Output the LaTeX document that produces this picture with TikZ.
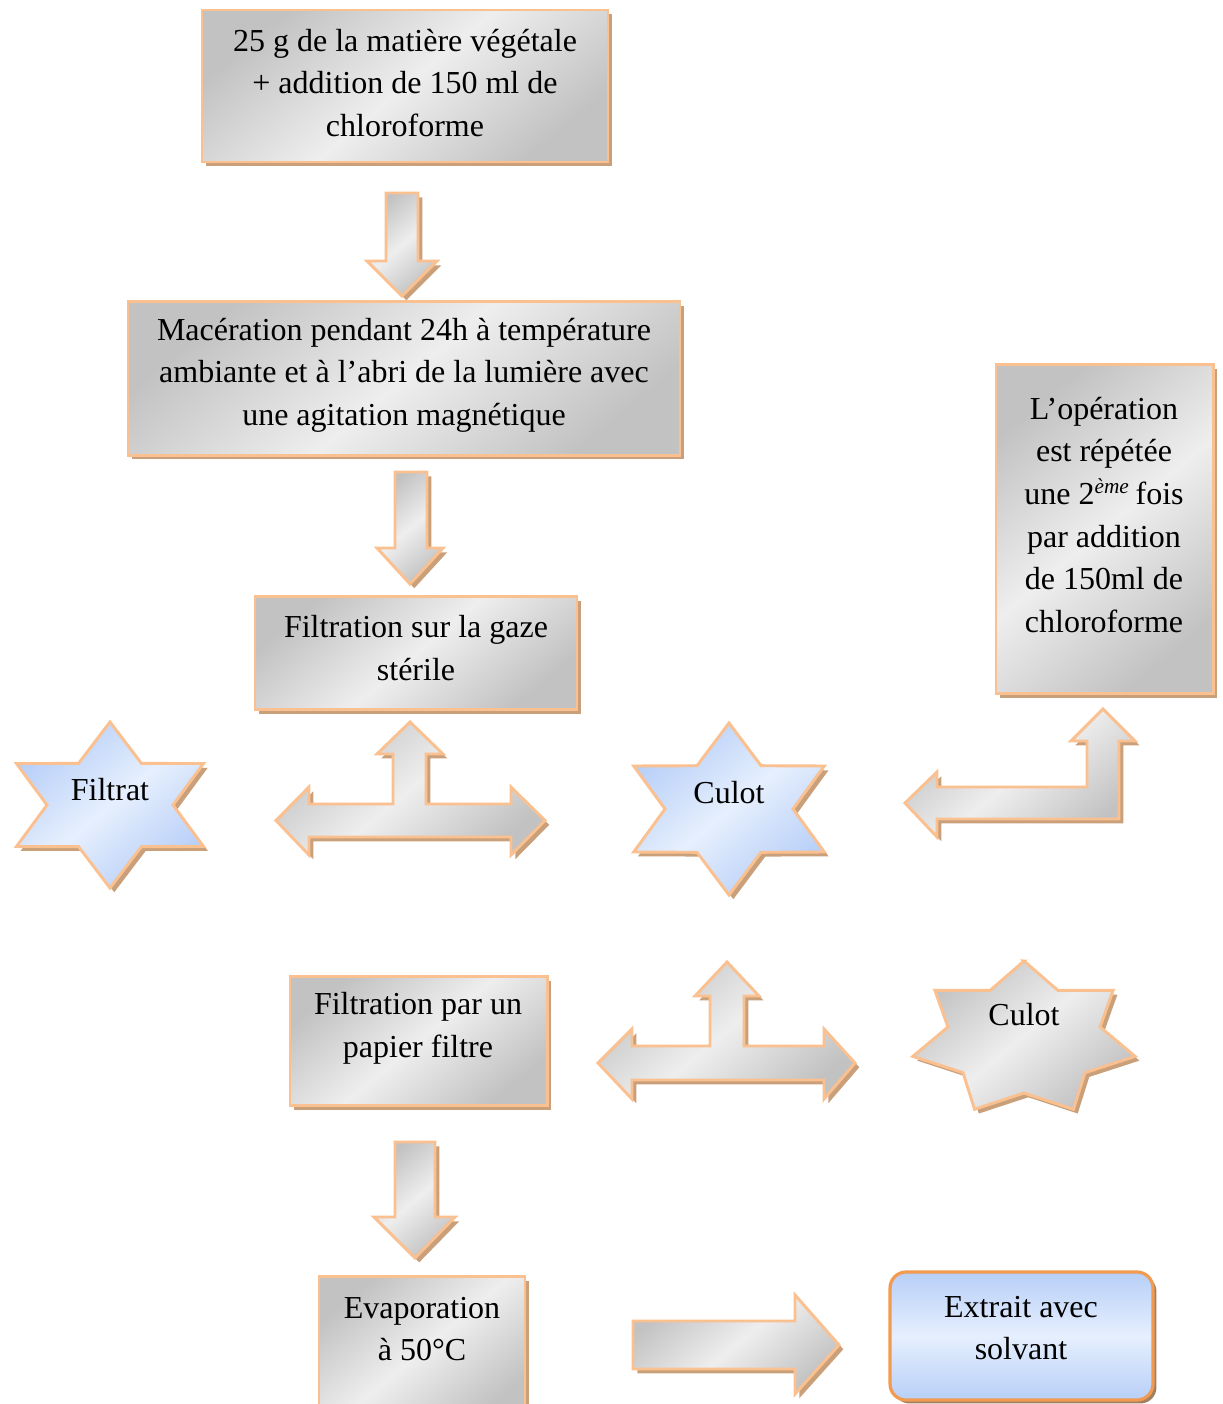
\documentclass[tikz,border=0pt]{standalone}
\usepackage{fontspec}
\setmainfont{Liberation Serif}
\usetikzlibrary{shadows}

\definecolor{boxline}{HTML}{FAC090}
\definecolor{roundline}{HTML}{F29A50}
\definecolor{shadowtan}{HTML}{C9A07A}
\definecolor{steelA}{HTML}{C2C2C2}
\definecolor{steelB}{HTML}{EEEEEE}
\definecolor{iceA}{HTML}{B7CFF8}
\definecolor{iceB}{HTML}{E6EFFD}

\tikzset{
  greyfill/.style={top color=steelA, bottom color=steelA, middle color=steelB, shading angle=40},
  bluefill/.style={top color=iceA, bottom color=iceA, middle color=iceB, shading angle=40},
  tanshadow/.style={drop shadow={shadow xshift=1.6pt, shadow yshift=-1.6pt, fill=shadowtan, opacity=1}},
  procbox/.style={draw=boxline, line width=1.1pt, greyfill, tanshadow, inner sep=0pt},
  blockarrow/.style={draw=boxline, line width=1.1pt, line join=miter, greyfill, tanshadow},
  bluestar/.style={draw=boxline, line width=1.1pt, line join=miter, bluefill, tanshadow},
  greystar/.style={draw=boxline, line width=1.1pt, line join=miter, greyfill, tanshadow},
  lbl/.style={align=center, inner sep=0pt, font=\fontsize{12}{16}\selectfont}
}

\begin{document}
\begin{tikzpicture}[x=0.375pt, y=-0.375pt]
    \useasboundingbox (0,0) rectangle (1222,1404);
    \clip (0,0) rectangle (1222,1404);

    % boxes
    \node[procbox, minimum width=152.25pt, minimum height=57pt] (vegetal) at (405,86) {};
    \node[lbl] (vegetaltxt) at (405,83) {25 g de la matière végétale\\+ addition de 150 ml de\\chloroforme};

    \node[procbox, minimum width=207pt, minimum height=57.4pt] (maceration) at (404,378.5) {};
    \node[lbl] (macerationtxt) at (404,375) {Macération pendant 24h à température\\ambiante et à l’abri de la lumière avec\\une agitation magnétique};

    \node[procbox, minimum width=120.75pt, minimum height=42.4pt] (gaze) at (416,653) {};
    \node[lbl] (gazetxt) at (416,648) {Filtration sur la gaze\\stérile};

    \node[procbox, minimum width=81.4pt, minimum height=123.4pt] (repete) at (1104.5,529) {};
    \node[lbl] (repetetxt) at (1104,515) {L’opération\\est répétée\\une 2\textsuperscript{\textit{ème}}\,fois\\par addition\\de 150ml de\\chloroforme};

    \node[procbox, minimum width=96.4pt, minimum height=48.4pt] (papier) at (418.5,1041) {};
    \node[lbl] (papiertxt) at (418,1028) {Filtration par un\\papier filtre};

    \node[procbox, minimum width=77.25pt, minimum height=55pt] (evapo) at (422,1350) {};
    \node[lbl] (evapotxt) at (422,1329) {Evaporation\\à 50°C};

    \node[draw=roundline, line width=1.2pt, rounded corners=6pt, bluefill, shading angle=0,
          drop shadow={shadow xshift=1.3pt, shadow yshift=-1.3pt, fill=shadowtan!80!black, opacity=1},
          minimum width=98.6pt, minimum height=48pt] (extrait) at (1021.5,1336) {};
    \node[lbl] (extraittxt) at (1021,1328) {Extrait avec\\solvant};

    % stars
    \begin{scope}[shift={(110,805)}]
      \draw[bluestar] (-90:108 and 83)
        \foreach \a in {-90,-30,...,210}{ -- (\a+30:63 and 48) -- (\a+60:108 and 83) } -- cycle;
    \end{scope}
    \node[lbl] (filtrat) at (110,790) {Filtrat};

    \begin{scope}[shift={(729,809)}]
      \draw[bluestar] (-90:110 and 86)
        \foreach \a in {-90,-30,...,210}{ -- (\a+30:64 and 50) -- (\a+60:110 and 86) } -- cycle;
    \end{scope}
    \node[lbl] (culotA) at (729,793) {Culot};

    \begin{scope}[shift={(1024,1039)}]
      \draw[greystar] (-90:114 and 78)
        \foreach \k in {0,...,6}{ -- (-90+\k*51.43+25.71:78 and 54) -- (-90+\k*51.43+51.43:114 and 78) } -- cycle;
    \end{scope}
    \node[lbl] (culotB) at (1024,1015) {Culot};

    % block arrows
    \draw[blockarrow] (386,193) -- (418,193) -- (418,261) -- (437,261) -- (402,296)
        -- (367,261) -- (386,261) -- cycle;
    \draw[blockarrow] (395,472) -- (427,472) -- (427,548) -- (443,548) -- (410,584)
        -- (377,548) -- (395,548) -- cycle;
    \draw[blockarrow] (395,1142) -- (435,1142) -- (435,1217) -- (455,1217) -- (415,1258)
        -- (374,1217) -- (395,1217) -- cycle;

    \draw[blockarrow] (410,722) -- (443,754) -- (426,754) -- (426,804) -- (511,804)
        -- (511,787) -- (545,820.5) -- (511,855) -- (511,837) -- (309,837) -- (309,855)
        -- (276,820.5) -- (309,787) -- (309,804) -- (393,804) -- (393,754) -- (377,754) -- cycle;

    \draw[blockarrow] (727,962) -- (759,996) -- (744,996) -- (744,1046) -- (824,1046)
        -- (824,1029) -- (855,1063) -- (824,1099) -- (824,1080) -- (632,1080) -- (632,1099)
        -- (598,1063) -- (632,1029) -- (632,1046) -- (710,1046) -- (710,996) -- (695,996) -- cycle;

    \draw[blockarrow] (1103,709) -- (1135,741) -- (1119,741) -- (1119,819) -- (937,819)
        -- (937,837) -- (905,803) -- (937,772) -- (937,787) -- (1087,787) -- (1087,741)
        -- (1071,741) -- cycle;

    \draw[blockarrow] (633,1321) -- (795,1321) -- (795,1295) -- (839,1345) -- (795,1394)
        -- (795,1369) -- (633,1369) -- cycle;
\end{tikzpicture}
\end{document}
